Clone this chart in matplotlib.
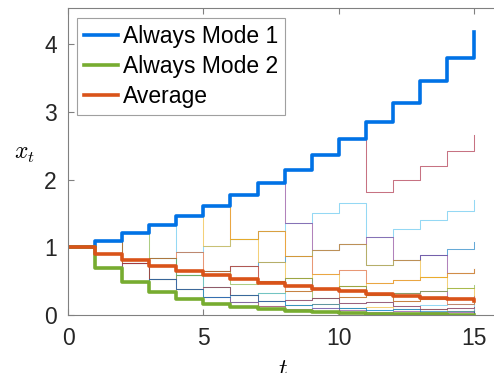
import matplotlib
matplotlib.use('Agg')
import matplotlib.pyplot as plt
import numpy as np

plt.rcParams['font.family'] = ['Liberation Sans', 'DejaVu Sans']
plt.rcParams['mathtext.fontset'] = 'cm'

t = np.arange(16)

# main curves
always_mode1 = [1.0, 1.1, 1.21, 1.331, 1.464, 1.611, 1.772, 1.949, 2.144, 2.358,
                2.594, 2.853, 3.138, 3.452, 3.797, 4.177]
always_mode2 = [1.0, 0.7, 0.49, 0.343, 0.240, 0.168, 0.118, 0.082, 0.058, 0.040,
                0.028, 0.020, 0.014, 0.010, 0.007, 0.005]
average = [1.0, 0.9, 0.81, 0.729, 0.656, 0.590, 0.531, 0.478, 0.430, 0.387,
           0.349, 0.314, 0.282, 0.254, 0.229, 0.206]

# thin sample paths
p1 = [1.0, 1.1, 1.21, 1.331, 1.464, 1.611, 1.772, 1.949, 2.144, 2.358, 2.594, 1.816, 1.997, 2.197, 2.417, 2.658]
p2 = [1.0, 1.1, 1.21, 1.331, 0.932, 1.025, 1.127, 1.240, 1.364, 1.501, 1.651, 1.155, 1.271, 1.398, 1.538, 1.692]
p3 = [1.0, 1.1, 0.77, 0.847, 0.593, 0.652, 0.717, 0.789, 0.868, 0.955, 1.050, 0.735, 0.809, 0.890, 0.979, 1.076]
p4 = [1.0, 1.1, 1.21, 1.331, 1.464, 1.611, 1.127, 1.240, 0.868, 0.608, 0.668, 0.468, 0.515, 0.566, 0.623, 0.685]
p5 = [1.0, 1.1, 1.21, 1.331, 1.464, 1.611, 1.772, 1.949, 1.364, 0.955, 1.050, 1.155, 0.809, 0.890, 0.623, 0.685]
p6 = [1.0, 0.7, 0.77, 0.539, 0.593, 0.652, 0.717, 0.502, 0.552, 0.387, 0.425, 0.298, 0.327, 0.360, 0.252, 0.277]
p7 = [1.0, 1.1, 0.77, 0.539, 0.593, 0.415, 0.291, 0.320, 0.352, 0.246, 0.271, 0.298, 0.208, 0.229, 0.252, 0.176]
p8 = [1.0, 0.7, 0.77, 0.847, 0.593, 0.415, 0.291, 0.320, 0.224, 0.246, 0.172, 0.190, 0.133, 0.146, 0.160, 0.112]
p9 = [1.0, 0.7, 0.49, 0.343, 0.377, 0.264, 0.185, 0.129, 0.142, 0.157, 0.110, 0.121, 0.085, 0.093, 0.065, 0.072]
p10 = [1.0, 1.1, 1.21, 1.331, 1.464, 1.611, 1.127, 0.789, 0.552, 0.608, 0.425, 0.468, 0.515, 0.566, 0.396, 0.277]
p11 = [1.0, 1.1, 1.21, 0.847, 0.593, 0.652, 0.457, 0.502, 0.552, 0.387, 0.425, 0.298, 0.327, 0.360, 0.396, 0.436]
p12 = [1.0, 0.7, 0.49, 0.539, 0.377, 0.264, 0.185, 0.203, 0.142, 0.100, 0.110, 0.077, 0.085, 0.093, 0.102, 0.072]
p13 = [1.0, 0.7, 0.49, 0.343, 0.240, 0.264, 0.185, 0.129, 0.091, 0.100, 0.070, 0.049, 0.054, 0.038, 0.041, 0.029]
p14 = [1.0, 1.1, 0.77, 0.847, 0.932, 0.652, 0.717, 0.502, 0.352, 0.387, 0.271, 0.298, 0.208, 0.229, 0.160, 0.176]
p15 = [1.0, 0.7, 0.77, 0.539, 0.377, 0.415, 0.291, 0.203, 0.224, 0.246, 0.172, 0.190, 0.133, 0.093, 0.102, 0.112]
p16 = [1.0, 1.1, 1.21, 1.331, 1.464, 1.025, 1.127, 1.240, 0.868, 0.955, 1.050, 0.735, 0.809, 0.566, 0.623, 0.685]
p17 = [1.0, 0.7, 0.49, 0.539, 0.377, 0.264, 0.291, 0.203, 0.142, 0.157, 0.110, 0.077, 0.085, 0.059, 0.065, 0.046]

paths = [p1, p2, p3, p4, p5, p6, p7, p8, p9, p10, p11, p12, p13, p14, p15, p16, p17]
path_colors = ['#A2142F', '#4DBEEE', '#0072BD', '#D95319', '#7E2F8E', '#7E2F8E',
               '#77AC30', '#4DBEEE', '#EDB120', '#EDB120', '#77AC30', '#4DBEEE',
               '#7E2F8E', '#D95319', '#A2142F', '#EDB120', '#0072BD']

fig = plt.figure(figsize=(4.94, 3.73), dpi=100)
ax = fig.add_axes([0.1377, 0.1555, 0.8767, 0.8223])

for p, c in zip(paths, path_colors):
    ax.step(t, p, where='post', color=c, lw=0.75, alpha=0.6)

ax.step(t, always_mode1, where='post', color='#0072E6', lw=2.6, label='Always Mode 1')
ax.step(t, always_mode2, where='post', color='#77AC30', lw=2.6, label='Always Mode 2')
ax.step(t, average, where='post', color='#D95319', lw=2.6, label='Average')

ax.set_xlim(0, 16)
ax.set_ylim(0, 4.53)
ax.set_xticks([0, 5, 10, 15])
ax.set_yticks([0, 1, 2, 3, 4])
ax.tick_params(direction='in', top=True, right=True, length=4, width=0.8,
               color='#808080', labelsize=16.5, labelcolor='#262626')
ax.tick_params(axis='x', pad=9)
ax.tick_params(axis='y', pad=8)
for s in ax.spines.values():
    s.set_color('#808080')
    s.set_linewidth(0.8)
ax.spines['right'].set_visible(False)

ax.set_xlabel('$t$', fontsize=17)
ax.xaxis.set_label_coords(0.497, -0.145)
ax.set_ylabel('$x_t$', fontsize=17, rotation=0)
ax.yaxis.set_label_coords(-0.1, 0.49)

leg = ax.legend(loc='upper left', bbox_to_anchor=(0.02, 0.968), borderaxespad=0,
                fontsize=16.5, handlelength=1.5, handletextpad=0.2, labelspacing=0.3,
                borderpad=0.3, fancybox=False, edgecolor='#a0a0a0', framealpha=1)
leg.get_frame().set_linewidth(0.8)

fig.savefig('out.png', dpi=100)
